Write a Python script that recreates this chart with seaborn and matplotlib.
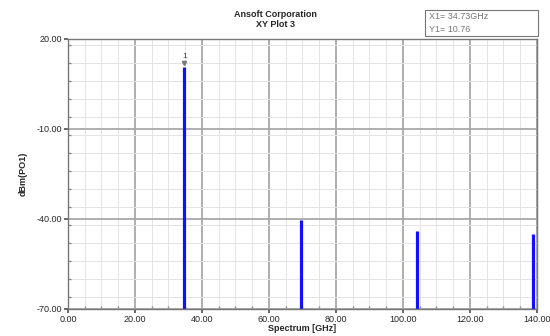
import numpy as np
import pandas as pd
import seaborn as sns
from matplotlib import pyplot as plt
from matplotlib.ticker import MultipleLocator, FormatStrFormatter

# spectrum lines (GHz, dBm)
freqs = [34.73, 69.46, 104.19, 138.92]
levels = [10.76, -40.2, -44.0, -45.0]
floor = -70.0

x_ticks = [0, 20, 40, 60, 80, 100, 120, 140]
y_ticks = [-70, -40, -10, 20]

sns.set_theme(style='white')
plt.rcParams['font.family'] = ['Liberation Sans', 'DejaVu Sans']

#each spectral line is a two point segment from the floor up to the level
rows = []
for i in range(len(freqs)):
    rows.append({'freq': freqs[i], 'dbm': floor, 'line': i})
    rows.append({'freq': freqs[i], 'dbm': levels[i], 'line': i})
df = pd.DataFrame(rows)

fig = plt.figure(figsize=(5.5, 3.36), dpi=100)
ax = fig.add_axes([0.1236, 0.0804, 0.8527, 0.8036])

sns.lineplot(data=df, x='freq', y='dbm', units='line', estimator=None,
             color='#1010ff', lw=2.3, ax=ax, legend=False, solid_capstyle='butt')

ax.set_xlim(0, 140)
ax.set_ylim(-70, 20)
ax.set_xticks(x_ticks)
ax.set_yticks(y_ticks)
ax.xaxis.set_minor_locator(MultipleLocator(5))
ax.yaxis.set_minor_locator(MultipleLocator(6))
ax.xaxis.set_major_formatter(FormatStrFormatter('%.2f'))
ax.yaxis.set_major_formatter(FormatStrFormatter('%.2f'))

ax.grid(which='major', color='#a8a8a8', lw=1.3)
ax.grid(which='minor', color='#e4e4e4', lw=0.7)
ax.set_axisbelow(True)
ax.tick_params(which='major', labelsize=6.5, length=3, direction='out', color='#555555', pad=1)
ax.tick_params(which='minor', length=2, direction='in', color='#888888')
ax.tick_params(axis='both', which='both', bottom=True, left=True)
for s in ax.spines.values():
    s.set_color('#777777')
    s.set_linewidth(1.0)

ax.set_xlabel('Spectrum [GHz]', fontsize=6.5, fontweight='bold', labelpad=0)
ax.set_ylabel('dBm(PO1)', fontsize=6.5, fontweight='bold', labelpad=7)
fig.text(0.5, 0.958, 'Ansoft Corporation', ha='center', va='center', fontsize=6.5, fontweight='bold')
fig.text(0.5, 0.926, 'XY Plot 3', ha='center', va='center', fontsize=6.5, fontweight='bold')

#marker 1 on the first peak
ax.plot([freqs[0]], [levels[0] + 1.2], marker='v', ms=3, color='#777777')
ax.text(freqs[0], levels[0] + 2.2, '1', ha='center', va='bottom', fontsize=6, color='#333333')

#marker readout box
fig.text(0.78, 0.952, 'X1= 34.73GHz', ha='left', va='center', fontsize=6.5, color='#777777')
fig.text(0.78, 0.912, 'Y1= 10.76', ha='left', va='center', fontsize=6.5, color='#777777')
fig.patches.append(plt.Rectangle((0.773, 0.893), 0.205, 0.077, transform=fig.transFigure,
                                 fill=False, edgecolor='#777777', lw=0.8))

fig.savefig('out.png', dpi=100)
